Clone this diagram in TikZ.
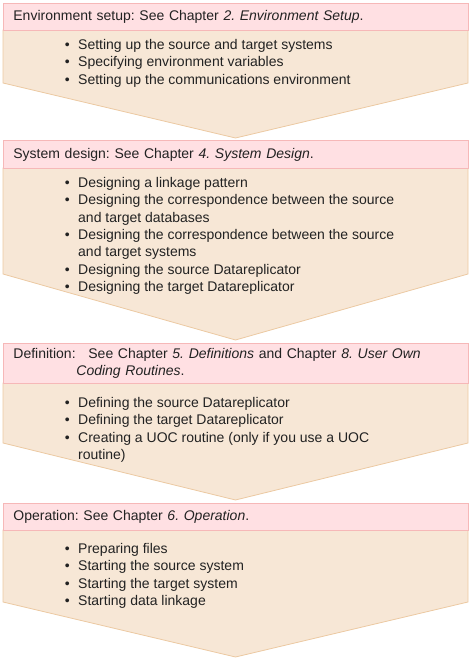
\documentclass[tikz,border=0pt]{standalone}
\usepackage{fontspec}
\setmainfont{Liberation Sans}
\usetikzlibrary{positioning}
\usepackage{xcolor}
\definecolor{headfill}{RGB}{255,224,227}
\definecolor{headline}{RGB}{246,184,184}
\definecolor{bodyfill}{RGB}{247,231,214}
\definecolor{bodyline}{RGB}{236,201,162}
\definecolor{ink}{RGB}{34,34,34}
\frenchspacing

% bullet and the indent of a wrapped line
\newcommand{\bitem}[1]{\makebox[13.4pt][l]{\textbullet}#1}
\newcommand{\bcont}{\hspace*{13.4pt}}

\begin{document}
\begin{tikzpicture}[
    x=1pt, y=-1pt,
    txt/.style={font=\fontsize{14}{17.3}\selectfont, text=ink},
    head/.style={rectangle, txt, fill=headfill, draw=headline, line width=0.8pt, anchor=north west, minimum width=465pt, text width=445pt, inner xsep=10pt, inner ysep=0pt, align=left},
    body/.style={fill=bodyfill, draw=bodyline, line width=0.8pt, line join=miter},
    items/.style={txt, anchor=base west, inner sep=0pt, align=left},
]
\useasboundingbox (0,0) rectangle (471,661);

% Stage 1 (list placed by the baseline of its last line)
\draw[body] (3,30) -- (468,30) -- (468,83) -- (235.5,138) -- (3,83) -- cycle;
\node[head, minimum height=27pt] (envhead) at (3,3) {Environment setup: See Chapter \textit{2. Environment Setup}.};
\node[items] (envlist) at (64.6,84.1) {\bitem{Setting up the source and target systems}\\
\bitem{Specifying environment variables}\\
\bitem{Setting up the communications environment}};

% Stage 2
\draw[body] (3,168) -- (468,168) -- (468,274) -- (235.5,340) -- (3,274) -- cycle;
\node[head, minimum height=28pt] (syshead) at (3,140) {System design: See Chapter \textit{4. System Design}.};
\node[items] (syslist) at (64.6,291.3) {\bitem{Designing a linkage pattern}\\
\bitem{Designing the correspondence between the source}\\
\bcont and target databases\\
\bitem{Designing the correspondence between the source}\\
\bcont and target systems\\
\bitem{Designing the source Datareplicator}\\
\bitem{Designing the target Datareplicator}};

% Stage 3
\draw[body] (3,383) -- (468,383) -- (468,443) -- (235.5,500) -- (3,443) -- cycle;
\node[head, minimum height=40pt, font=\fontsize{14}{16.3}\selectfont] (defhead) at (3,343) {\makebox[63pt][l]{Definition:}\hspace{12pt}See Chapter \textit{5. Definitions} and Chapter \textit{8. User Own}\\
\hspace*{63pt}\textit{Coding Routines}.};
\node[items] (deflist) at (64.6,459.4) {\bitem{Defining the source Datareplicator}\\
\bitem{Defining the target Datareplicator}\\
\bitem{Creating a UOC routine (only if you use a UOC}\\
\bcont routine)};

% Stage 4
\draw[body] (3,530) -- (468,530) -- (468,602) -- (235.5,657) -- (3,602) -- cycle;
\node[head, minimum height=27pt] (ophead) at (3,503) {Operation: See Chapter \textit{6. Operation}.};
\node[items] (oplist) at (64.6,605.4) {\bitem{Preparing files}\\
\bitem{Starting the source system}\\
\bitem{Starting the target system}\\
\bitem{Starting data linkage}};

\end{tikzpicture}
\end{document}
